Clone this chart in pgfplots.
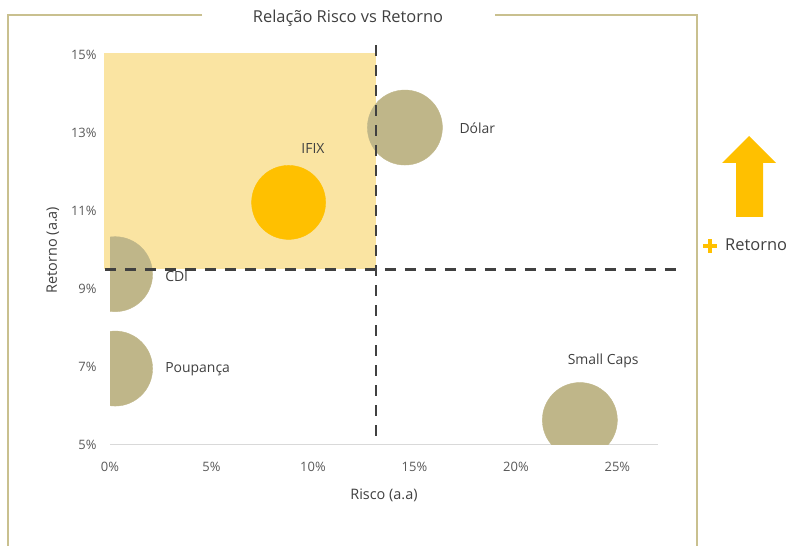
\documentclass[border=0pt]{standalone}
\usepackage{fontspec}
\setmainfont{Open Sans}
\usepackage{pgfplots}
\pgfplotsset{compat=1.18}
\definecolor{khaki}{HTML}{BFB689}
\definecolor{gold}{HTML}{FFC000}
\definecolor{lightgold}{HTML}{FAE4A2}
\definecolor{dashc}{HTML}{404040}
\definecolor{txt}{HTML}{595959}
\definecolor{framec}{HTML}{C9C08F}
\definecolor{axisgray}{HTML}{D9D9D9}
\pgfplotsset{base/.style={scale only axis, width=548bp, height=390bp,
  at={(110bp,101bp)}, anchor=south west, xmin=0, xmax=27, ymin=5, ymax=15}}
\begin{document}
\begin{tikzpicture}
\useasboundingbox (0,0) rectangle (792bp,546bp);
% outer frame
\draw[framec, line width=1.2bp] (202bp,531bp) -- (8bp,531bp) -- (8bp,0bp);
\draw[framec, line width=1.2bp] (495bp,531bp) -- (697bp,531bp) -- (697bp,0bp);
\node[text=dashc, font=\fontsize{16.5}{19}\selectfont] at (348bp,528bp) {Relação Risco vs Retorno};

% background highlight
\begin{axis}[base, clip=false, hide axis]
\addplot[fill=lightgold, draw=none] coordinates {(-0.3,9.52) (13.1,9.52) (13.1,15.05) (-0.3,15.05)};
\end{axis}

% main axis with bubbles
\begin{axis}[base, clip=true, clip marker paths=true,
  axis x line*=bottom, axis y line*=left,
  y axis line style={draw=none},
  x axis line style={draw=axisgray, line width=1bp},
  tick style={draw=none},
  xtick={0,5,10,15,20,25}, ytick={5,7,9,11,13,15},
  xticklabel={\pgfmathprintnumber{\tick}\%},
  yticklabel={\pgfmathprintnumber{\tick}\%},
  /pgf/number format/assume math mode=true,
  tick label style={text=txt, font=\fontsize{13}{15}\selectfont},
  xticklabel style={yshift=-14bp},
  yticklabel style={xshift=-10bp},
  xlabel={Risco (a.a)}, ylabel={Retorno (a.a)},
  label style={text=dashc, font=\fontsize{14.5}{17}\selectfont},
  xlabel style={yshift=-10bp},
  ylabel style={yshift=5bp}]
\addplot[khaki, only marks, mark=*, mark size=37.5bp, mark options={fill=khaki, draw=khaki}]
  coordinates {(0.25,9.38) (0.25,6.96) (14.53,13.14) (23.15,5.64)};
\addplot[gold, only marks, mark=*, mark size=37bp, mark options={fill=gold, draw=gold}]
  coordinates {(8.8,11.22)};
\end{axis}

% dashed quadrant lines and labels
\begin{axis}[base, clip=false, hide axis]
\addplot[dashc, line width=2.5bp, dash pattern=on 11bp off 9bp] coordinates {(13.1,15.25) (13.1,5.05)};
\addplot[dashc, line width=2.5bp, dash pattern=on 11bp off 9bp] coordinates {(-0.25,9.5) (28.1,9.5)};
\node[text=dashc, font=\fontsize{14}{16}\selectfont] at (axis cs:10.0,12.6) {IFIX};
\node[text=dashc, font=\fontsize{14}{16}\selectfont] at (axis cs:18.1,13.13) {Dólar};
\node[text=dashc, font=\fontsize{14}{16}\selectfont, anchor=west] at (axis cs:2.55,9.33) {CDI};
\node[text=dashc, font=\fontsize{14}{16}\selectfont, anchor=west] at (axis cs:2.55,6.95) {Poupança};
\node[text=dashc, font=\fontsize{14}{16}\selectfont] at (axis cs:24.3,7.15) {Small Caps};
\end{axis}

% arrow and + Retorno
\fill[gold] (749bp,410bp) -- (776bp,383bp) -- (763bp,383bp) -- (763bp,329bp)
  -- (736bp,329bp) -- (736bp,383bp) -- (722bp,383bp) -- cycle;
\fill[gold] (703bp,298.3bp) rectangle (717bp,301.7bp);
\fill[gold] (708.3bp,293bp) rectangle (711.7bp,307bp);
\node[text=dashc, font=\fontsize{16.5}{19}\selectfont, anchor=west, inner sep=0pt] at (725bp,301bp) {Retorno};
\end{tikzpicture}
\end{document}
